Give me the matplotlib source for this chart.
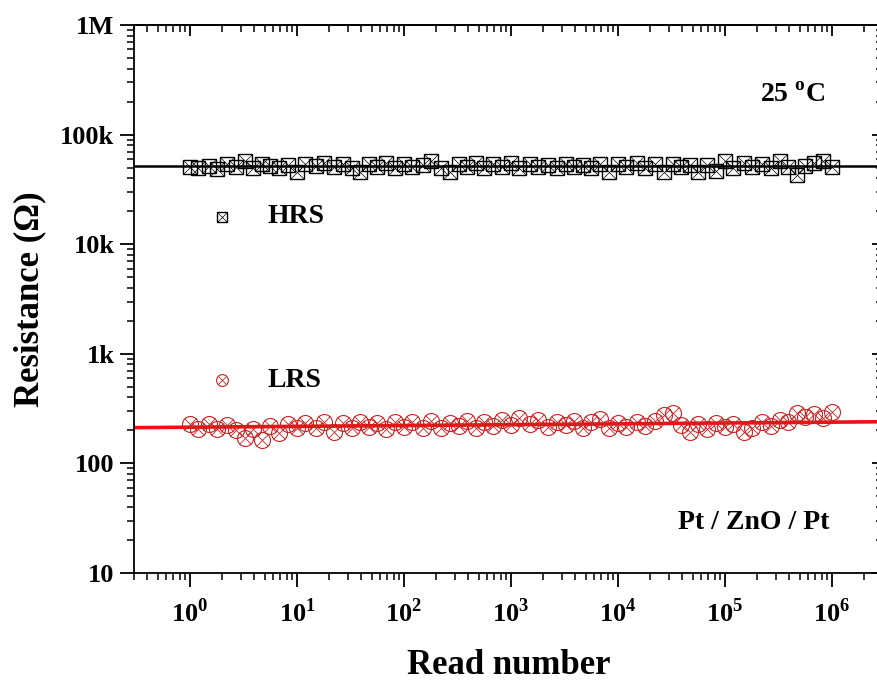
import math
import matplotlib
matplotlib.use('Agg')
from matplotlib import pyplot as plt
from matplotlib import ticker

plt.rcParams['font.family'] = ['Liberation Serif', 'DejaVu Serif']
plt.rcParams['font.weight'] = 'bold'
plt.rcParams['mathtext.fontset'] = 'custom'
plt.rcParams['mathtext.rm'] = 'Liberation Serif'
plt.rcParams['mathtext.bf'] = 'Liberation Serif:bold'

# read numbers: E12 steps per decade, 1 .. 1e6
mantissa = [1.0, 1.2, 1.5, 1.8, 2.2, 2.7, 3.3, 3.9, 4.7, 5.6, 6.8, 8.2]
reads = [m * 10 ** d for d in range(6) for m in mantissa] + [1e6]

# HRS resistance (kOhm)
hrs_k = [51, 50, 52, 49, 54, 51, 57, 50, 54, 52, 50, 53,
         46, 54, 52, 55, 51, 54, 50, 46, 54, 51, 55, 50,
         54, 51, 53, 57, 50, 46, 54, 51, 55, 50, 54, 51,
         55, 50, 54, 51, 53, 50, 54, 51, 53, 50, 54, 46,
         54, 51, 55, 50, 54, 46, 54, 51, 53, 46, 53, 47,
         57, 50, 55, 51, 54, 50, 57, 51, 43, 52, 55, 57,
         51]
hrs = [v * 1000 for v in hrs_k]

# LRS resistance (Ohm)
lrs = [230, 205, 228, 208, 226, 200, 172, 205, 165, 218, 190, 228,
       210, 235, 212, 238, 195, 232, 210, 240, 215, 236, 205, 240,
       215, 238, 212, 242, 210, 236, 218, 245, 212, 240, 220, 250,
       225, 262, 230, 248, 215, 240, 225, 245, 212, 238, 255, 210,
       235, 215, 240, 218, 245, 275, 290, 225, 195, 230, 205, 235,
       215, 228, 195, 210, 238, 220, 250, 240, 290, 265, 285, 260,
       295]

# guide lines
fit_x = [0.3, 3e6]
fit_hrs = [52000, 52000]
fit_lrs = [212, 240]

x_ticks = [1, 10, 100, 1e3, 1e4, 1e5, 1e6]
y_ticks = [10, 100, 1e3, 1e4, 1e5, 1e6]
y_labels = ['10', '100', '1k', '10k', '100k', '1M']

fig = plt.figure(figsize=(8.77, 6.84), dpi=100)
ax = fig.add_axes([0.1528, 0.1623, 0.854, 0.801])
ax.set_xscale('log')
ax.set_yscale('log')

ax.plot(fit_x, fit_hrs, color='black', lw=1.8, zorder=1)
ax.plot(fit_x, fit_lrs, color='#ee1111', lw=2.6, zorder=1)

ax.plot(reads, hrs, ls='none', marker='s', ms=10.5, mfc='none', mec='black', mew=1.0, zorder=3)
ax.plot(reads, hrs, ls='none', marker='x', ms=10.5, mec='black', mew=0.5, zorder=3)
ax.plot(reads, lrs, ls='none', marker='o', ms=11.5, mfc='none', mec='#cc2222', mew=0.8, zorder=3)
ax.plot(reads, lrs, ls='none', marker='x', ms=8, mec='#cc2222', mew=0.6, zorder=3)

ax.set_xlim(0.3, 3e6)
ax.set_ylim(10, 1e6)

ax.xaxis.set_major_locator(ticker.FixedLocator(x_ticks))
ax.xaxis.set_major_formatter(ticker.FuncFormatter(
    lambda v, p: r'$\mathbf{10}^{\mathrm{%d}}$' % round(math.log10(v))))
ax.xaxis.set_minor_formatter(ticker.NullFormatter())
ax.yaxis.set_major_locator(ticker.FixedLocator(y_ticks))
ax.yaxis.set_major_formatter(ticker.FixedFormatter(y_labels))
ax.yaxis.set_minor_locator(ticker.LogLocator(base=10, subs=range(2, 10), numticks=20))
ax.yaxis.set_minor_formatter(ticker.NullFormatter())

ax.tick_params(which='major', direction='out', length=10, width=1.3, labelsize=19, pad=4)
ax.tick_params(which='minor', direction='out', length=5, width=1.1)
ax.tick_params(axis='x', pad=8)
for lab in ax.get_yticklabels():
    lab.set_fontweight('bold')

top = ax.secondary_xaxis('top')
top.tick_params(which='major', direction='in', length=8, width=1.3, labeltop=False)
top.tick_params(which='minor', direction='in', length=5, width=1.1)
top.xaxis.set_major_locator(ticker.FixedLocator(x_ticks))
top.xaxis.set_major_formatter(ticker.NullFormatter())
top.xaxis.set_minor_formatter(ticker.NullFormatter())
right = ax.secondary_yaxis('right')
right.tick_params(which='major', direction='in', length=8, width=1.3, labelright=False)
right.tick_params(which='minor', direction='in', length=5, width=1.1)
right.yaxis.set_major_formatter(ticker.NullFormatter())
right.yaxis.set_minor_formatter(ticker.NullFormatter())

for s in ax.spines.values():
    s.set_linewidth(1.3)
for sa in (top, right):
    for s in sa.spines.values():
        s.set_linewidth(1.3)

ax.set_xlabel('Read number', fontsize=25, fontweight='bold', labelpad=16)
ax.set_ylabel('Resistance (Ω)', fontsize=25, fontweight='bold', labelpad=10)

# labels inside the plot
ax.plot([0.118], [0.65], transform=ax.transAxes, marker='s', ms=7.5, mfc='none', mec='black', mew=1.0)
ax.plot([0.118], [0.65], transform=ax.transAxes, marker='x', ms=7.5, mec='black', mew=0.5)
ax.text(0.178, 0.65, 'HRS', transform=ax.transAxes, fontsize=20, va='center', ha='left')
ax.plot([0.118], [0.352], transform=ax.transAxes, marker='o', ms=8.5, mfc='none', mec='#cc2222', mew=0.8)
ax.plot([0.118], [0.352], transform=ax.transAxes, marker='x', ms=6, mec='#cc2222', mew=0.6)
ax.text(0.178, 0.352, 'LRS', transform=ax.transAxes, fontsize=20, va='center', ha='left')
ax.text(0.88, 0.872, r'25 $^{\mathrm{o}}$C', transform=ax.transAxes, fontsize=20, va='center', ha='center')
ax.text(0.828, 0.093, 'Pt / ZnO / Pt', transform=ax.transAxes, fontsize=20, va='center', ha='center')

fig.savefig('out.png', dpi=100)
